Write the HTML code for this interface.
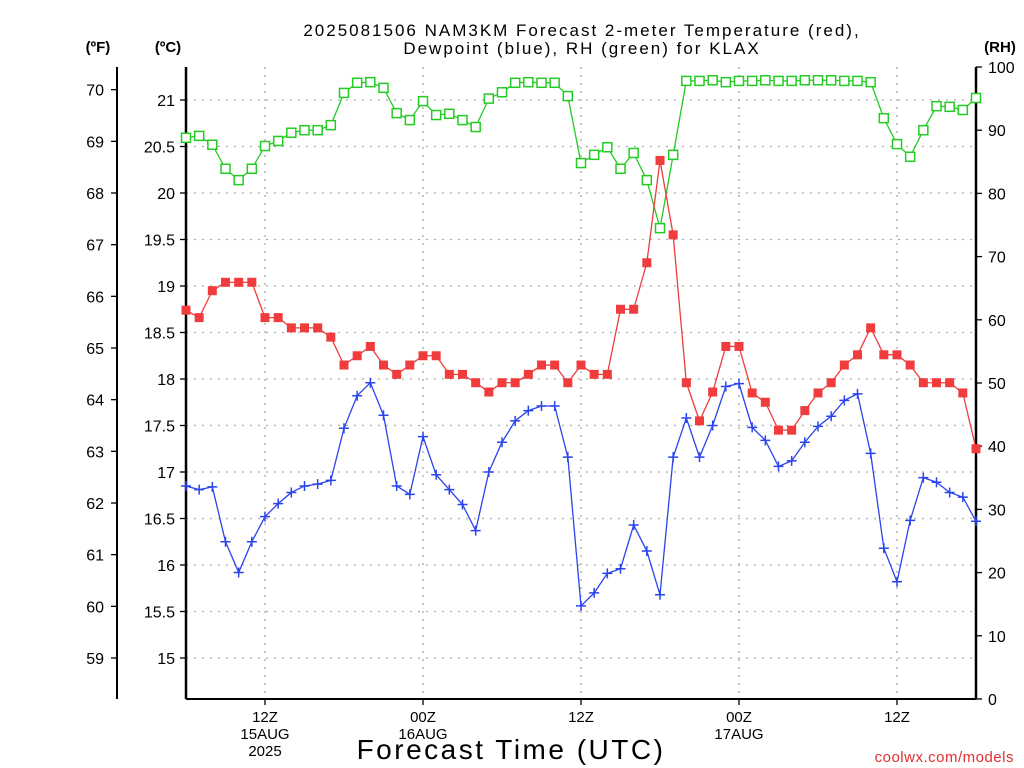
<!DOCTYPE html>
<html><head><meta charset="utf-8">
<style>
html,body{margin:0;padding:0;background:#fff;}
svg{display:block;font-family:"Liberation Sans",sans-serif;}
</style></head>
<body>
<svg id="chart" width="1024" height="768" viewBox="0 0 1024 768" xmlns="http://www.w3.org/2000/svg">
<text x="582" y="36" font-size="17" text-anchor="middle" letter-spacing="2">2025081506 NAM3KM Forecast 2-meter Temperature (red),</text>
<text x="582" y="54" font-size="17" text-anchor="middle" letter-spacing="2">Dewpoint (blue), RH (green) for KLAX</text>
<text x="98" y="52" font-size="15" font-weight="bold" text-anchor="middle">(ºF)</text>
<text x="168" y="52" font-size="15" font-weight="bold" text-anchor="middle">(ºC)</text>
<text x="1000" y="52" font-size="15" font-weight="bold" text-anchor="middle">(RH)</text>
<g id="grid"></g>
<g id="axes"></g>
<g id="series"></g>
<text x="511" y="759" font-size="28" text-anchor="middle" letter-spacing="2.5" font-weight="500">Forecast Time (UTC)</text>
<text x="1014" y="762" font-size="15" fill="#e03030" text-anchor="end" letter-spacing="0.5">coolwx.com/models</text>
</svg>
<script>
const temps=[18.74,18.66,18.95,19.04,19.04,19.04,18.66,18.66,18.55,18.55,18.55,18.45,18.15,18.25,18.35,18.15,18.05,18.15,18.25,18.25,18.05,18.05,17.96,17.86,17.96,17.96,18.05,18.15,18.15,17.96,18.15,18.05,18.05,18.75,18.75,19.25,20.35,19.55,17.96,17.55,17.86,18.35,18.35,17.85,17.75,17.45,17.45,17.66,17.85,17.96,18.15,18.26,18.55,18.26,18.26,18.15,17.96,17.96,17.96,17.85,17.25];
const dewpts=[16.85,16.81,16.84,16.25,15.92,16.25,16.52,16.66,16.78,16.85,16.87,16.91,17.47,17.82,17.96,17.61,16.85,16.76,17.38,16.97,16.81,16.65,16.37,17.0,17.32,17.55,17.66,17.71,17.71,17.16,15.56,15.70,15.91,15.96,16.43,16.15,15.68,17.16,17.58,17.16,17.5,17.92,17.95,17.48,17.34,17.06,17.12,17.32,17.49,17.60,17.77,17.84,17.20,16.18,15.82,16.48,16.94,16.89,16.78,16.73,16.47];
const rhs=[88.8,89.1,87.7,83.9,82.1,83.9,87.5,88.3,89.6,90.0,90.0,90.8,95.9,97.5,97.6,96.7,92.7,91.6,94.6,92.4,92.6,91.6,90.5,95.0,96.0,97.5,97.6,97.5,97.5,95.4,84.8,86.1,87.3,83.9,86.4,82.1,74.5,86.1,97.8,97.8,97.9,97.6,97.8,97.8,97.9,97.8,97.8,97.9,97.9,97.9,97.8,97.8,97.6,91.9,87.8,85.8,90.0,93.8,93.7,93.2,95.1];
const cTicks=["15","15.5","16","16.5","17","17.5","18","18.5","19","19.5","20","20.5","21"];
const fTicks=["59","60","61","62","63","64","65","66","67","68","69","70"];
const rhTicks=["0","10","20","30","40","50","60","70","80","90","100"];
const xTickHours=[6,18,30,42,54];
const xTickLabels=[["12Z","15AUG","2025"],["00Z","16AUG",""],["12Z","",""],["00Z","17AUG",""],["12Z","",""]];

const NS="http://www.w3.org/2000/svg";
const L=186,R=976,T=67,B=699;
const xH=h=>L+(R-L)*h/60;
const yC=c=>100+(21-c)*93;
const yF=f=>yC((f-32)*5/9);
const yRH=r=>B-(B-T)*r/100;
function mk(tag,attrs,parent){const e=document.createElementNS(NS,tag);for(const k in attrs)e.setAttribute(k,attrs[k]);parent.appendChild(e);return e;}
const grid=document.getElementById('grid'),axes=document.getElementById('axes'),ser=document.getElementById('series');

cTicks.forEach(t=>{const y=yC(+t);
 const g=mk('line',{x1:L,x2:R,y1:y,y2:y,stroke:'#aaa','stroke-width':1.3,'stroke-dasharray':'2,6'},grid);
 
 
 const tk=mk('line',{x1:L-6,x2:L,y1:y,y2:y,stroke:'#000','stroke-width':1.3},axes);
 
 
 const tx=mk('text',{x:L-11,y:y+6,'font-size':16,'text-anchor':'end'},axes);tx.textContent=t;
 
 
});
xTickHours.forEach((h,i)=>{const x=xH(h);
 const g=mk('line',{x1:x,x2:x,y1:T,y2:B,stroke:'#aaa','stroke-width':1.3,'stroke-dasharray':'2,6'},grid);
 
 
 const tk=mk('line',{x1:x,x2:x,y1:B,y2:B+6,stroke:'#000','stroke-width':1.3},axes);
 
 
 xTickLabels[i].forEach((s,j)=>{if(!s)return;const tx=mk('text',{x:x,y:722+j*17,'font-size':15,'text-anchor':'middle'},axes);tx.textContent=s;
  
  });
});
fTicks.forEach(t=>{const y=yF(+t);
 const tk=mk('line',{x1:111,x2:117,y1:y,y2:y,stroke:'#000','stroke-width':1.3},axes);
 
 
 const tx=mk('text',{x:104,y:y+6,'font-size':16,'text-anchor':'end'},axes);tx.textContent=t;
 
 
});
rhTicks.forEach(t=>{const y=yRH(+t);
 const tk=mk('line',{x1:R,x2:R+6,y1:y,y2:y,stroke:'#000','stroke-width':1.3},axes);
 
 
 const tx=mk('text',{x:988,y:y+6,'font-size':16,'text-anchor':'start'},axes);tx.textContent=t;
 
 
});
let a=mk('line',{x1:117,x2:117,y1:T,y2:B,stroke:'#000','stroke-width':2},axes);


a=mk('line',{x1:L,x2:L,y1:T,y2:B,stroke:'#000','stroke-width':2.5},axes);


a=mk('line',{x1:R,x2:R,y1:T,y2:B,stroke:'#000','stroke-width':2.5},axes);


a=mk('line',{x1:L,x2:R,y1:B,y2:B,stroke:'#000','stroke-width':2},axes);



function drawLine(vals,yf,color,name){
 const p=mk('polyline',{points:vals.map((v,i)=>xH(i)+','+yf(v)).join(' '),fill:'none',stroke:color,'stroke-width':1.3},ser);
 
 
}
drawLine(rhs,yRH,'#22cc22','rh');
drawLine(temps,yC,'#ee3c3c','temperature');
drawLine(dewpts,yC,'#2a44ee','dewpoint');
rhs.forEach((v,i)=>{const x=xH(i),y=yRH(v);
 const m=mk('rect',{x:x-4.5,y:y-4.5,width:9,height:9,fill:'#fff',stroke:'#22cc22','stroke-width':1.5},ser);
 
 
});
temps.forEach((v,i)=>{const x=xH(i),y=yC(v);
 const m=mk('rect',{x:x-4.5,y:y-4.5,width:9,height:9,fill:'#f03c3c'},ser);
 
 
});
dewpts.forEach((v,i)=>{const x=xH(i),y=yC(v);
 const m=mk('path',{d:`M${x-5},${y}H${x+5}M${x},${y-5}V${y+5}`,stroke:'#2a44ee','stroke-width':1.5,fill:'none'},ser);
 
 
});
</script>
</body></html>
